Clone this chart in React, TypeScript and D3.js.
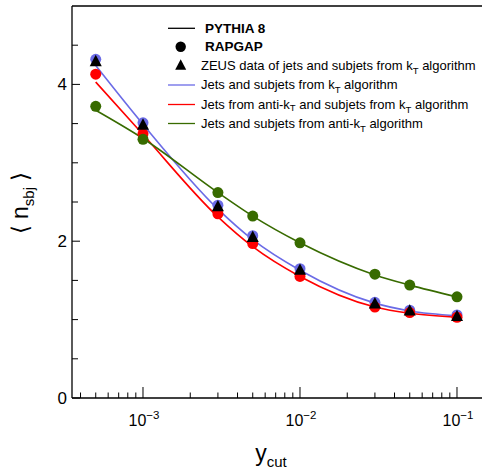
import React from "react";
import * as d3 from "d3";

const ycut = [5e-4, 1e-3, 3e-3, 5e-3, 1e-2, 3e-2, 5e-2, 1e-1];
// PYTHIA 8 curves
const pythiaKt = [4.24, 3.49, 2.41, 2.02, 1.63, 1.21, 1.11, 1.05];
const pythiaAntiKtJets = [4.03, 3.36, 2.31, 1.93, 1.55, 1.16, 1.08, 1.03];
const pythiaAntiKt = [3.67, 3.31, 2.62, 2.32, 1.98, 1.57, 1.44, 1.29];
// RAPGAP points
const rapgapKt = [4.32, 3.51, 2.46, 2.07, 1.65, 1.22, 1.12, 1.06];
const rapgapAntiKtJets = [4.13, 3.37, 2.35, 1.97, 1.55, 1.16, 1.09, 1.03];
const rapgapAntiKt = [3.72, 3.30, 2.62, 2.32, 1.98, 1.58, 1.44, 1.29];
// ZEUS data
const zeus = [4.29, 3.48, 2.44, 2.05, 1.63, 1.20, 1.11, 1.04];

const yMajor = [0, 2, 4];
const xMajor = [1e-3, 1e-2, 1e-1];
const xMajorExp = ["-3", "-2", "-1"];

const W = 482;
const H = 473;
const left = 72;
const top = 6;
const bottom = 398;

const BLUE = "#6b6be6";
const RED = "#ff0000";
const GREEN = "#386b00";
const FONT = "'Liberation Sans', Arial, Helvetica, sans-serif";

export default function App() {
  const x = d3.scaleLog().domain([3.53e-4, 0.15]).range([left, left + 157 * (Math.log10(0.15) - Math.log10(3.53e-4))]);
  const y = d3.scaleLinear().domain([0, 5]).range([bottom, top]);

  const line = d3
    .line<[number, number]>()
    .x((d) => x(d[0]))
    .y((d) => y(d[1]))
    .curve(d3.curveMonotoneX);

  const pts = (vals: number[]) => ycut.map((c, i) => [c, vals[i]] as [number, number]);

  const xMinor: number[] = [];
  for (let e = -4; e <= -1; e++) {
    for (let m = 2; m <= 9; m++) {
      const v = m * Math.pow(10, e);
      if (v >= 3.53e-4 && v <= 0.15) xMinor.push(v);
    }
  }
  const yMinor = d3.range(0, 5.01, 0.5).filter((v) => !yMajor.includes(v) && v < 5);

  const xRight = W;
  const tri = (cx: number, cy: number, s: number) =>
    `M${cx},${cy - s * 0.62} L${cx + s * 0.55},${cy + s * 0.42} L${cx - s * 0.55},${cy + s * 0.42} Z`;

  const r = 5.5;

  const legendX0 = 168;
  const legendX1 = 195;
  const legendTextX = 201;
  const lf = 13;
  const sf = 9.5;

  return (
    <svg width={W} height={H} style={{ position: "absolute", left: 0, top: 0, background: "#fff" }} fontFamily={FONT}>
      <rect width={W} height={H} fill="#fff" />
      {/* curves */}
      <path d={line(pts(pythiaKt)) || ""} fill="none" stroke={BLUE} strokeWidth={1.6} />
      <path d={line(pts(pythiaAntiKtJets)) || ""} fill="none" stroke={RED} strokeWidth={1.6} />
      <path d={line(pts(pythiaAntiKt)) || ""} fill="none" stroke={GREEN} strokeWidth={1.6} />
      {/* RAPGAP circles */}
      {ycut.map((c, i) => (
        <circle key={"b" + i} cx={x(c)} cy={y(rapgapKt[i])} r={r} fill={BLUE} />
      ))}
      {ycut.map((c, i) => (
        <circle key={"r" + i} cx={x(c)} cy={y(rapgapAntiKtJets[i])} r={r} fill={RED} />
      ))}
      {ycut.map((c, i) => (
        <circle key={"g" + i} cx={x(c)} cy={y(rapgapAntiKt[i])} r={r} fill={GREEN} />
      ))}
      {/* ZEUS triangles */}
      {ycut.map((c, i) => (
        <path key={"t" + i} d={tri(x(c), y(zeus[i]), 11)} fill="#000" />
      ))}

      {/* axes */}
      <line x1={left} x2={xRight} y1={bottom} y2={bottom} stroke="#000" strokeWidth={1.3} />
      <line x1={left} x2={xRight} y1={top} y2={top} stroke="#000" strokeWidth={1.3} />
      <line x1={left} x2={left} y1={top} y2={bottom} stroke="#000" strokeWidth={1.3} />
      {xMajor.map((v, i) => (
        <g key={"xm" + i}>
          <line x1={x(v)} x2={x(v)} y1={bottom} y2={bottom - 11} stroke="#000" strokeWidth={1} />
          <text x={x(v) + 1} y={426} fontSize={16} textAnchor="middle" fill="#000">
            10
            <tspan dy={-7} fontSize={11.5}>{"\u2212" + xMajorExp[i].slice(1)}</tspan>
          </text>
        </g>
      ))}
      {xMinor.map((v, i) => (
        <line key={"xn" + i} x1={x(v)} x2={x(v)} y1={bottom} y2={bottom - 5.5} stroke="#000" strokeWidth={1} />
      ))}
      {yMajor.map((v) => (
        <g key={"ym" + v}>
          <line x1={left} x2={left + 8} y1={y(v)} y2={y(v)} stroke="#000" strokeWidth={1} />
          <text x={left - 5} y={y(v) + 6} fontSize={17} textAnchor="end" fill="#000">
            {v}
          </text>
        </g>
      ))}
      {yMinor.map((v) => (
        <line key={"yn" + v} x1={left} x2={left + 6} y1={y(v)} y2={y(v)} stroke="#000" strokeWidth={1} />
      ))}

      {/* axis titles */}
      <text x={271} y={461} fontSize={23} textAnchor="middle" fill="#000">
        y<tspan dy={6} fontSize={15}>cut</tspan>
      </text>
      <text transform="translate(28,203) rotate(-90)" fontSize={23} textAnchor="middle" fill="#000">
        {"\u27E8 n"}
        <tspan dy={6} fontSize={15}>sbj</tspan>
        <tspan dy={-6}>{" \u27E9"}</tspan>
      </text>

      {/* legend */}
      <line x1={legendX0} x2={legendX1} y1={28.3} y2={28.3} stroke="#000" strokeWidth={1.3} />
      <text x={205} y={32.8} fontSize={13.5} fontWeight="bold" fill="#000">PYTHIA 8</text>
      <circle cx={180.7} cy={46.7} r={5.2} fill="#000" />
      <text x={205} y={51.3} fontSize={13.5} fontWeight="bold" fill="#000">RAPGAP</text>
      <path d={tri(180.7, 65.5, 10)} fill="#000" />
      <text x={legendTextX} y={70} fontSize={lf} fill="#000">
        ZEUS data of jets and subjets from k<tspan dy={4} fontSize={sf}>T</tspan>
        <tspan dy={-4}> algorithm</tspan>
      </text>
      <line x1={legendX0} x2={legendX1} y1={85} y2={85} stroke={BLUE} strokeWidth={1.3} />
      <text x={legendTextX} y={89.3} fontSize={lf} fill="#000">
        Jets and subjets from k<tspan dy={4} fontSize={sf}>T</tspan>
        <tspan dy={-4}> algorithm</tspan>
      </text>
      <line x1={legendX0} x2={legendX1} y1={104.5} y2={104.5} stroke={RED} strokeWidth={1.3} />
      <text x={legendTextX} y={108.8} fontSize={lf} fill="#000">
        Jets from anti-k<tspan dy={2.5} fontSize={sf}>T</tspan>
        <tspan dy={-2.5}> and subjets from k</tspan>
        <tspan dy={4} fontSize={sf}>T</tspan>
        <tspan dy={-4}> algorithm</tspan>
      </text>
      <line x1={legendX0} x2={legendX1} y1={123.5} y2={123.5} stroke={GREEN} strokeWidth={1.3} />
      <text x={legendTextX} y={127.8} fontSize={lf} fill="#000">
        Jets and subjets from anti-k<tspan dy={4} fontSize={sf}>T</tspan>
        <tspan dy={-4}> algorithm</tspan>
      </text>
    </svg>
  );
}
